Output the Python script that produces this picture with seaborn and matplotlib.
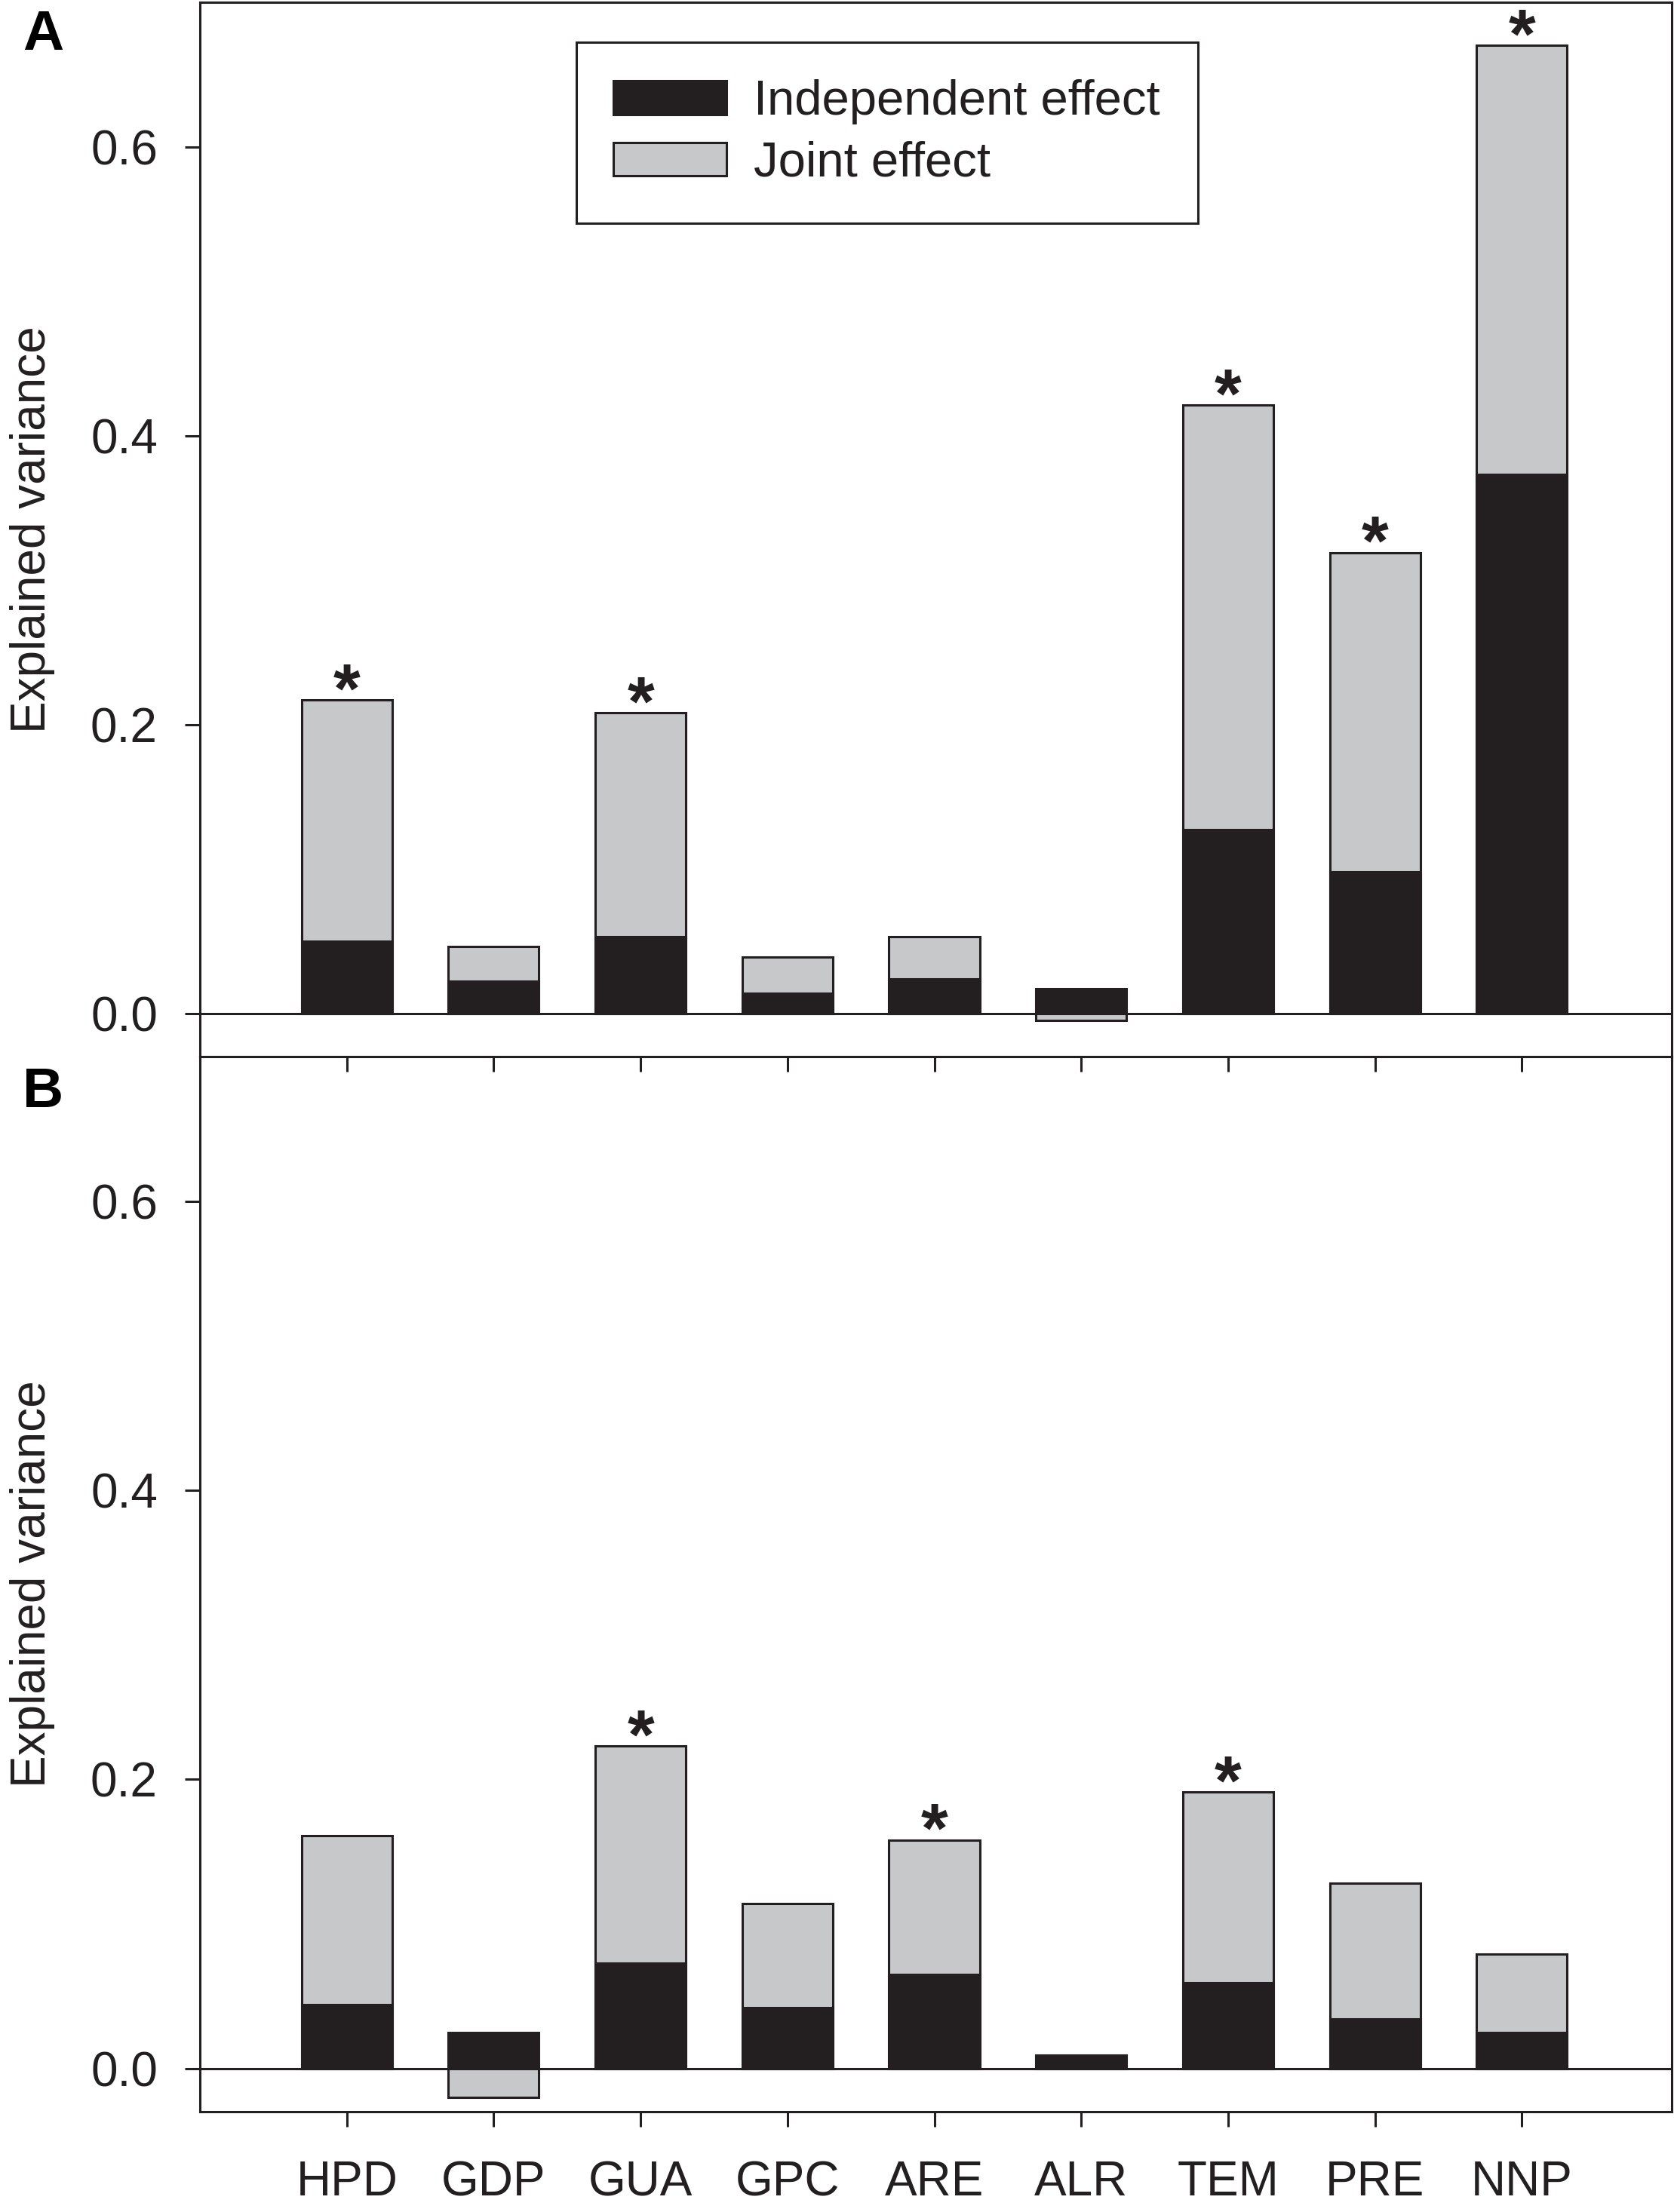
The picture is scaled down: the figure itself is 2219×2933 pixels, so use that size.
import numpy as np
import pandas as pd
import matplotlib
matplotlib.use("Agg")
import matplotlib.pyplot as plt
import seaborn as sns
from matplotlib.patches import Patch

# ---------------- data ----------------
categories = ["HPD", "GDP", "GUA", "GPC", "ARE", "ALR", "TEM", "PRE", "NNP"]
a_independent = [0.050, 0.022, 0.053, 0.014, 0.024, 0.017, 0.127, 0.098, 0.373]
a_joint = [0.167, 0.024, 0.155, 0.025, 0.029, -0.005, 0.294, 0.221, 0.297]
a_signif = [True, False, True, False, False, False, True, True, True]
b_independent = [0.044, 0.025, 0.073, 0.042, 0.065, 0.009, 0.059, 0.034, 0.025]
b_joint = [0.117, -0.020, 0.150, 0.072, 0.093, 0.0, 0.132, 0.094, 0.054]
b_signif = [False, False, True, False, True, False, True, False, False]
yticks = [0.0, 0.2, 0.4, 0.6]
ytick_labels = ["0.0", "0.2", "0.4", "0.6"]
panel_labels = ["A", "B"]
legend_labels = ["Independent effect", "Joint effect"]
ylabel = "Explained variance"

# ---------------- style ----------------
BLACK = "#231f20"
GRAY = "#c7c8ca"
EDGE = "#231f20"
LW = 2.2

sns.set_theme(style="ticks")
plt.rcParams["font.family"] = ["Liberation Sans", "DejaVu Sans"]
plt.rcParams["text.color"] = EDGE
plt.rcParams["axes.labelcolor"] = EDGE

W_PX, H_PX = 2219, 2933
fig = plt.figure(figsize=(W_PX / 100, H_PX / 100), dpi=100)
fig.patch.set_facecolor("white")

left = 265 / W_PX
width = (2216 - 265) / W_PX
axA = fig.add_axes([left, 1 - 1401 / H_PX, width, (1401 - 3) / H_PX])
axB = fig.add_axes([left, 1 - 2800 / H_PX, width, (2800 - 1401) / H_PX])

panels = [
    (axA, a_independent, a_joint, a_signif),
    (axB, b_independent, b_joint, b_signif),
]

for k, (ax, ind, joint, sig) in enumerate(panels):
    ax.set_facecolor("none")
    df = pd.DataFrame({"var": categories, "ind": ind, "joint": joint})
    df["outer"] = np.where(df["joint"] >= 0, df["ind"] + df["joint"], df["joint"])
    df["top"] = np.where(df["joint"] >= 0, df["ind"] + df["joint"], df["ind"])

    ax.axhline(0, color=EDGE, lw=LW, zorder=1)
    sns.barplot(data=df, x="var", y="outer", order=categories, color=GRAY,
                saturation=1, width=0.617, edgecolor=EDGE, linewidth=LW,
                errorbar=None, ax=ax, zorder=2)
    sns.barplot(data=df, x="var", y="ind", order=categories, color=BLACK,
                saturation=1, width=0.617, edgecolor=EDGE, linewidth=LW,
                errorbar=None, ax=ax, zorder=3)

    bars = ax.containers[0]
    for patch, top, s in zip(bars, df["top"], sig):
        if s:
            xc = patch.get_x() + patch.get_width() / 2
            ax.annotate("*", xy=(xc, top), xytext=(0, -11.5),
                        textcoords="offset points", ha="center", va="baseline",
                        fontsize=66, fontweight="bold", color=EDGE, zorder=4)

    ax.set_xlim(-1.0, 9.02)
    ax.set_ylim(-0.03, 0.70)
    ax.set_yticks(yticks)
    ax.set_yticklabels(ytick_labels)
    ax.set_xlabel("")
    ax.set_ylabel(ylabel, fontsize=46, color=EDGE)
    ax.yaxis.set_label_coords(-0.0985, 0.5)
    ax.tick_params(axis="both", which="major", direction="out", length=14.4,
                   width=LW, labelsize=46, color=EDGE, labelcolor=EDGE,
                   top=False, right=False)
    ax.tick_params(axis="y", pad=26)
    ax.tick_params(axis="x", pad=32)
    for sp in ax.spines.values():
        sp.set_visible(True)
        sp.set_linewidth(LW)
        sp.set_color(EDGE)

axA.tick_params(axis="x", labelbottom=False)
axA.set_zorder(2)

handles = [Patch(facecolor=BLACK, edgecolor=EDGE, linewidth=LW),
           Patch(facecolor=GRAY, edgecolor=EDGE, linewidth=LW)]
leg = axA.legend(handles, legend_labels, loc="upper left",
                 bbox_to_anchor=(0.2556, 0.9623), borderaxespad=0,
                 fontsize=47, handlelength=2.3, handleheight=0.667,
                 handletextpad=0.55, borderpad=0.76, labelspacing=0.33,
                 frameon=True, fancybox=False, framealpha=1, edgecolor=EDGE)
leg.get_frame().set_linewidth(LW)
for t in leg.get_texts():
    t.set_color(EDGE)

fig.text(30 / W_PX, 1 - 66 / H_PX, panel_labels[0], fontsize=54,
         fontweight="bold", ha="left", va="baseline", color="black")
fig.text(30 / W_PX, 1 - 1468 / H_PX, panel_labels[1], fontsize=54,
         fontweight="bold", ha="left", va="baseline", color="black")

fig.savefig("out.png", dpi=100, facecolor="white")
